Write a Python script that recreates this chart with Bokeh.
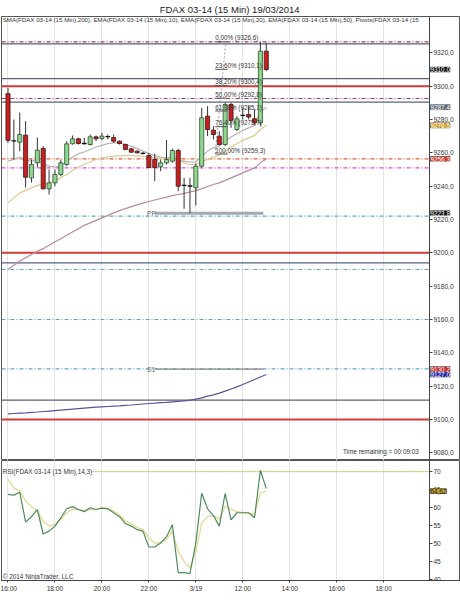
from bokeh.plotting import figure
from bokeh.layouts import column
from bokeh.models import Range1d, FixedTicker, Label, Grid, ColumnDataSource
from bokeh.core.properties import value
from bokeh.embed import file_html
from bokeh.resources import INLINE

FONT = "Liberation Sans"

title_text = "FDAX 03-14 (15 Min)  19/03/2014"
legend_text = ("SMA(FDAX 03-14 (15 Min),200), EMA(FDAX 03-14 (15 Min),10), "
               "EMA(FDAX 03-14 (15 Min),20), EMA(FDAX 03-14 (15 Min),50), Pivots(FDAX 03-14 (15")
rsi_title = "RSI(FDAX 03-14 (15 Min),14,3)"
copyright_text = "\u00a9 2014 NinjaTrader, LLC"
time_text = "Time remaining = 00:09:03"

# x axis (bar index) tick labels
tick_idx = [0, 8, 16, 24, 32, 40, 48, 56, 64]
tick_labels = ["16:00", "18:00", "20:00", "22:00", "3/19", "12:00", "14:00", "16:00", "18:00"]

# 15-min candles
opens = [9295.5, 9267.2, 9266.4, 9270.6, 9245.0, 9254.0, 9262.6, 9238.4, 9242.0, 9247.0,
         9253.0, 9265.4, 9268.4, 9265.6, 9265.0, 9269.6, 9268.6, 9269.7, 9269.2, 9267.0,
         9265.0, 9262.4, 9261.0, 9259.7, 9258.4, 9256.0, 9251.6, 9254.0, 9255.0, 9261.4,
         9240.5, 9240.1, 9239.0, 9252.0, 9282.0, 9273.6, 9270.0, 9265.0, 9289.0, 9274.0,
         9282.5, 9283.0, 9280.4, 9278.0, 9321.0]
highs = [9299.0, 9280.0, 9284.2, 9279.0, 9256.0, 9269.2, 9264.0, 9250.0, 9250.0, 9256.0,
         9267.0, 9270.4, 9269.0, 9269.0, 9271.0, 9270.4, 9272.0, 9271.0, 9271.0, 9267.4,
         9265.5, 9262.8, 9261.5, 9260.5, 9260.0, 9259.6, 9256.0, 9267.6, 9262.6, 9262.4,
         9245.0, 9245.0, 9253.6, 9287.0, 9288.0, 9276.0, 9273.0, 9290.0, 9290.0, 9282.0,
         9287.0, 9288.0, 9286.0, 9326.6, 9326.0]
lows = [9266.0, 9256.0, 9261.0, 9239.2, 9242.2, 9251.2, 9238.0, 9235.0, 9240.0, 9246.0,
        9252.0, 9265.0, 9265.0, 9265.0, 9264.4, 9267.0, 9267.6, 9268.0, 9266.0, 9265.0,
        9261.6, 9260.0, 9259.6, 9259.0, 9251.0, 9243.0, 9249.0, 9253.0, 9254.0, 9237.0,
        9226.4, 9223.8, 9228.4, 9251.2, 9270.0, 9268.0, 9264.4, 9264.0, 9275.0, 9273.0,
        9280.0, 9280.0, 9277.0, 9276.4, 9309.0]
closes = [9267.5, 9267.0, 9271.0, 9245.4, 9253.0, 9261.6, 9238.4, 9242.0, 9247.0, 9254.0,
          9265.4, 9268.4, 9265.6, 9265.4, 9269.6, 9268.4, 9270.0, 9269.5, 9267.0, 9265.6,
          9262.0, 9260.4, 9260.0, 9259.5, 9251.2, 9251.2, 9254.0, 9256.0, 9261.4, 9240.0,
          9240.3, 9240.0, 9252.0, 9281.0, 9274.0, 9271.0, 9265.0, 9289.0, 9279.5, 9280.4,
          9282.3, 9281.5, 9278.0, 9321.0, 9310.0]

ema10 = [9255, 9256, 9257.5, 9255.5, 9255, 9256, 9253.5, 9252, 9251.5, 9252,
         9255, 9257.5, 9259.5, 9260.5, 9262, 9263.5, 9264.5, 9265.5, 9266, 9266,
         9265, 9264, 9262.5, 9261, 9259.5, 9258.5, 9257.5, 9257, 9257.5, 9256,
         9255, 9254.5, 9254.5, 9258, 9261, 9263, 9264, 9267, 9269.5, 9271.5,
         9273.5, 9275, 9276.5, 9284.5, 9287.4]
ema20 = [9230, 9233, 9236, 9237.5, 9239, 9240.5, 9241, 9242, 9243.5, 9245,
         9247, 9249.5, 9251.5, 9253, 9254.5, 9256, 9257, 9257.5, 9258, 9258.2,
         9258.3, 9258.3, 9258.2, 9258, 9257.6, 9257.2, 9256.8, 9256.5, 9256.5, 9255.2,
         9254, 9253, 9253, 9254.5, 9256, 9257.5, 9258.5, 9261, 9263.5, 9265.5,
         9267.5, 9269, 9270.5, 9274, 9276.5]
ema50 = [9190, 9192.5, 9195, 9197, 9199, 9201, 9202.5, 9204.5, 9206.5, 9208.5,
         9210.5, 9212.5, 9214.5, 9216.5, 9218, 9219.5, 9221, 9222.5, 9224, 9225.3,
         9226.5, 9227.7, 9228.8, 9229.8, 9230.8, 9231.7, 9232.6, 9233.4, 9234.3, 9235,
         9235.7, 9236.5, 9237.3, 9238.5, 9239.8, 9241, 9242, 9243.5, 9245, 9246.5,
         9248, 9249.5, 9251, 9254, 9256.3]
sma200 = [9103.4, 9103.6, 9103.8, 9104, 9104.3, 9104.5, 9104.8, 9105, 9105.3, 9105.6,
          9105.9, 9106.2, 9106.5, 9106.8, 9107.1, 9107.4, 9107.6, 9107.8, 9108, 9108.2,
          9108.5, 9108.7, 9109, 9109.3, 9109.6, 9109.8, 9110.1, 9110.3, 9110.6, 9110.9,
          9111.2, 9111.6, 9112.2, 9113, 9114, 9114.8, 9115.8, 9117, 9118.3, 9119.6,
          9121, 9122.5, 9124, 9125.5, 9127]

rsi = [63.7, 63.5, 64.3, 56.0, 57.5, 59.5, 52.7, 53.5, 54.9, 57.2,
       59.7, 60.3, 59.5, 58.9, 60.0, 59.5, 59.9, 59.7, 58.6, 57.5,
       55.6, 54.9, 53.9, 53.5, 49.1, 49.1, 50.2, 51.9, 55.3, 42.0,
       42.0, 41.7, 50.2, 64.0, 59.7, 57.8, 54.9, 64.0, 56.6, 58.6,
       58.6, 58.6, 57.2, 70.4, 65.3]
rsi_avg = [67.9, 65.5, 64.6, 61.8, 60.3, 59.0, 56.2, 54.9, 55.3, 56.8,
           58.6, 59.6, 59.5, 59.2, 59.5, 59.5, 60.0, 59.8, 59.1, 58.0,
           56.3, 55.5, 54.5, 54.0, 51.6, 50.2, 50.2, 51.1, 53.5, 47.9,
           45.1, 43.3, 47.6, 55.8, 57.5, 57.8, 56.8, 60.4, 59.5, 59.0,
           58.6, 58.4, 58.3, 64.1, 64.62]
rsi_upper = 70

# horizontal level lines
round_levels = [9300, 9200, 9100]
slate_levels = [9325.4, 9304.5, 9290.4, 9194.0, 9111.6]
pink_levels = [9326.6, 9292.6]
orange_levels = [9256.4]
magenta_levels = [9251.0]
blue_levels = [9222.0, 9190.0, 9160.0, 9130.4]

# pivots (current session)
pivot_names = ["PP", "S1"]
pivot_values = [9223.8, 9130.2]
pivot_start = 24
pivot_end = 43.5

# fibonacci retracement
fib_pcts = ["0,00%", "23,60%", "38,20%", "50,00%", "61,80%", "76,40%", "100,00%"]
fib_prices = [9326.6, 9310.1, 9300.4, 9292.8, 9285.1, 9275.7, 9259.3]
fib_x0 = 35.3
fib_x1 = 37.4

# right-axis value markers
marker_values = [9310.0, 9287.4, 9276.5, 9256.3, 9223.8, 9130.2, 9127.0]
marker_colors = ["#111111", "#5f6f7f", "#d9a21f", "#d83a2e", "#111111", "#d0262a", "#2a2ab0"]
rsi_marker = 64.62

price_ticks = [9080, 9100, 9120, 9140, 9160, 9180, 9200, 9220, 9240, 9260, 9280, 9300, 9320]
rsi_ticks = [40, 45, 50, 55, 60, 65, 70]

X0 = -1.107
AXIS_X = 71.8          # bar-index position of the price / RSI axis line
XR = Range1d(X0, 77.09)
FW = 459
BL = 1


def fmt(v, d=1):
    return f"{v:.{d}f}".replace(".", ",")


def hlines(p, levels, **kw):
    n = len(levels)
    p.segment(x0=[X0] * n, y0=levels, x1=[AXIS_X] * n, y1=levels, **kw)


def style_axis(ax):
    ax.major_label_text_font = FONT
    ax.major_label_text_font_size = "6.6px"
    ax.major_label_text_color = "#333333"
    ax.major_tick_in = 0
    ax.major_tick_out = 3
    ax.minor_tick_line_color = None
    ax.axis_line_color = "#444444"
    ax.major_tick_line_color = "#444444"


p1 = figure(frame_width=FW, frame_height=444, x_range=XR, y_range=Range1d(9075.4, 9341.8),
            output_backend="svg", toolbar_location=None, y_axis_location="right",
            x_axis_location=None, min_border_left=BL, min_border_right=0,
            min_border_top=0, min_border_bottom=0, title=title_text)
p1.title.align = "center"
p1.title.offset = 0
p1.title.standoff = 3
p1.title.text_font = FONT
p1.title.text_font_size = "9.5px"
p1.title.text_font_style = "normal"
p1.title.text_color = "#222222"
p1.grid.grid_line_color = None
p1.add_layout(Grid(dimension=0, ticker=FixedTicker(ticks=tick_idx), grid_line_color="#e4e4e4"))
p1.outline_line_color = "#555555"

ya = p1.yaxis[0]
ya.ticker = FixedTicker(ticks=price_ticks)
ya.major_label_overrides = {t: fmt(float(t)) for t in price_ticks}
style_axis(ya)
ya.major_label_standoff = 1
ya.fixed_location = AXIS_X

# level lines
hlines(p1, round_levels, line_color="#d23a3a", line_width=2)
hlines(p1, slate_levels, line_color="#5c6078", line_width=1.2)
hlines(p1, pink_levels, line_color="#a83a5c", line_width=1.2, line_dash="4 2 1 2")
hlines(p1, orange_levels, line_color="#e2603a", line_width=1.2, line_dash="4 2 1 2")
hlines(p1, magenta_levels, line_color="#d455d4", line_width=1.2, line_dash="4 2 1 2")
hlines(p1, blue_levels, line_color="#5fa6c6", line_width=1.2, line_dash="4 2 1 2")

# pivots
p1.segment(x0=[pivot_start + 1] * 2, y0=pivot_values, x1=[pivot_end] * 2, y1=pivot_values,
           line_color=["#a8a8a8", "#8a8a8a"], line_width=[3, 1.2])
p1.text(x=[pivot_start - 0.3] * 2, y=pivot_values, text=pivot_names, text_font=value(FONT),
        text_font_size="6.6px", text_color="#666666", text_baseline="middle")

# moving averages
idx = list(range(len(closes)))
p1.line(idx, sma200, line_color="#55559a", line_width=1.2)
p1.line(idx, ema50, line_color="#b98a98", line_width=1.2)
p1.line(idx, ema20, line_color="#dcc890", line_width=1.2)
p1.line(idx, ema10, line_color="#b4b4b4", line_width=1.2)

# candles
up = dict(x=[], top=[], bottom=[])
dn = dict(x=[], top=[], bottom=[])
dj = dict(x=[], top=[], bottom=[])
for i, (o, c) in enumerate(zip(opens, closes)):
    if abs(c - o) < 0.35:
        dj["x"].append(i); dj["top"].append(o); dj["bottom"].append(o)
    elif c > o:
        up["x"].append(i); up["top"].append(c); up["bottom"].append(o)
    else:
        dn["x"].append(i); dn["top"].append(o); dn["bottom"].append(c)
p1.segment(x0=idx, y0=highs, x1=idx, y1=lows, line_color="#333333", line_width=1)
p1.vbar(x="x", top="top", bottom="bottom", width=0.7, source=ColumnDataSource(up),
        fill_color="#8fd68f", line_color="#2f4f2f", line_width=0.8)
p1.vbar(x="x", top="top", bottom="bottom", width=0.7, source=ColumnDataSource(dn),
        fill_color="#c8201e", line_color="#3a1a1a", line_width=0.8)
p1.segment(x0=[v - 0.4 for v in dj["x"]], y0=dj["top"], x1=[v + 0.4 for v in dj["x"]],
           y1=dj["bottom"], line_color="#111111", line_width=1.3)

# fibonacci
p1.segment(x0=[fib_x0] * len(fib_prices), y0=fib_prices, x1=[fib_x1] * len(fib_prices),
           y1=fib_prices, line_color="#555555", line_width=1)
p1.segment(x0=[fib_x0], y0=[fib_prices[-1]], x1=[fib_x1 - 0.3], y1=[fib_prices[0]],
           line_color="#888888", line_width=0.8, line_dash="2 2")
p1.text(x=[fib_x0] * len(fib_prices), y=fib_prices,
        text=[f"{a} ({fmt(b)})" for a, b in zip(fib_pcts, fib_prices)],
        text_font=value(FONT), text_font_size="6.3px", text_color="#333333",
        text_baseline="bottom", y_offset=-0.5)

# panel texts
p1.text(x=[-0.9], y=[9340.3], text=[legend_text], text_font=value(FONT), text_font_size="6.15px",
        text_color="#333333", text_baseline="middle")
p1.text(x=[70.0], y=[9080.8], text=[time_text], text_font=value(FONT), text_font_size="6.4px",
        text_color="#333333", text_baseline="middle", text_align="right")

# right axis markers
for v, col in zip(marker_values, marker_colors):
    p1.add_layout(Label(x=AXIS_X, y=v, x_offset=1, text=fmt(v), text_font=FONT,
                        text_font_size="6.4px", text_color="white", text_baseline="middle",
                        background_fill_color=col, border_line_color="#222222",
                        border_line_width=0.5, level="overlay"))

# RSI panel
p2 = figure(frame_width=FW, frame_height=120, x_range=XR, y_range=Range1d(39.8, 73.1),
            output_backend="svg", toolbar_location=None, y_axis_location="right",
            min_border_left=BL, min_border_right=0, min_border_top=0, min_border_bottom=27)
p2.grid.grid_line_color = None
p2.add_layout(Grid(dimension=0, ticker=FixedTicker(ticks=tick_idx), grid_line_color="#e4e4e4"))
p2.outline_line_color = "#555555"

xa = p2.xaxis[0]
xa.ticker = FixedTicker(ticks=tick_idx)
xa.major_label_overrides = {t: s for t, s in zip(tick_idx, tick_labels)}
style_axis(xa)
xa.major_tick_out = 2
xa.major_label_standoff = 2

ry = p2.yaxis[0]
ry.ticker = FixedTicker(ticks=rsi_ticks)
style_axis(ry)
ry.major_label_standoff = 1
ry.fixed_location = AXIS_X

hlines(p2, [rsi_upper], line_color="#d2ca7a", line_width=1)
p2.line(idx, rsi_avg, line_color="#e2d98e", line_width=1.3)
p2.line(idx, rsi, line_color="#4f8a5e", line_width=1.2)

p2.add_layout(Label(x=-0.9, y=70.0, text=rsi_title, text_font=FONT, text_font_size="6.4px",
                    text_color="#333333", text_baseline="middle", background_fill_color="white"))
p2.add_layout(Label(x=-0.9, y=40.9, text=copyright_text, text_font=FONT, text_font_size="6.4px",
                    text_color="#333333", text_baseline="middle"))
p2.add_layout(Label(x=AXIS_X, y=rsi_marker, x_offset=1, text=fmt(rsi_marker, 2),
                    text_font=FONT, text_font_size="6.4px", text_color="#222222",
                    text_baseline="middle", background_fill_color="#c9a227",
                    border_line_color="#222222", border_line_width=0.5, level="overlay"))

layout = column(p1, p2, spacing=0)
open("out.html", "w").write(file_html(layout, INLINE))
